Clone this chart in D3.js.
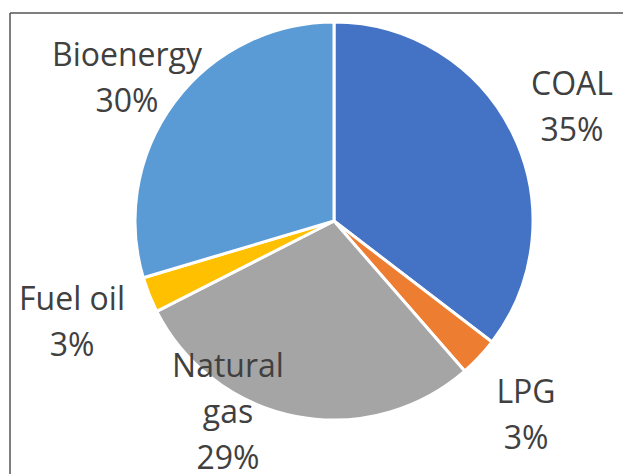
<!DOCTYPE html>
<html>
<head>
<meta charset="utf-8">
<script src="https://cdn.jsdelivr.net/npm/d3@7"></script>
<style>
  body { margin: 0; background: #fff; }
  text { font-family: "Open Sans", "Noto Sans", sans-serif; fill: #404040; }
</style>
</head>
<body>
<svg width="623" height="474"></svg>
<script>
const categories = ["COAL", "LPG", "Natural gas", "Fuel oil", "Bioenergy"];
const shares = [35.4, 3.2, 28.9, 2.9, 29.6];
const shareLabels = ["35%", "3%", "29%", "3%", "30%"];
const colors = ["#4472C4", "#ED7D31", "#A5A5A5", "#FFC000", "#5B9BD5"];

// label lines as shown in the picture (name may wrap)
const nameLines = [["COAL"], ["LPG"], ["Natural", "gas"], ["Fuel oil"], ["Bioenergy"]];
// label anchor (center x, first baseline y)
const labelPos = [[572, 95], [526, 403], [228, 377], [72, 310], [127, 66]];

const cx = 334, cy = 221, r = 199;

const svg = d3.select("svg");

// frame of the figure (only top and left show)
svg.append("line").attr("x1", 10).attr("y1", 13).attr("x2", 623).attr("y2", 13)
   .attr("stroke", "#555").attr("stroke-width", 1.5);
svg.append("line").attr("x1", 10).attr("y1", 13).attr("x2", 10).attr("y2", 474)
   .attr("stroke", "#555").attr("stroke-width", 1.5);

// bits of the title above the frame that got cut off
svg.selectAll(".cut").data([["(", 282], [",", 348], [")", 410]]).enter()
   .append("text").attr("class", "cut")
   .attr("x", d => d[1]).attr("y", -4)
   .attr("text-anchor", "middle").attr("font-size", 28)
   .text(d => d[0]);

const pie = d3.pie().sort(null).value(d => d);
const arc = d3.arc().innerRadius(0).outerRadius(r);

const g = svg.append("g").attr("transform", `translate(${cx},${cy})`);
g.selectAll("path")
 .data(pie(shares))
 .enter()
 .append("path")
 .attr("d", arc)
 .attr("fill", (d, i) => colors[i])
 .attr("stroke", "#fff")
 .attr("stroke-width", 3)
 .attr("stroke-linejoin", "round");

const lineH = 46;
const labels = svg.selectAll(".lbl")
  .data(categories)
  .enter()
  .append("text")
  .attr("class", "lbl")
  .attr("text-anchor", "middle")
  .attr("font-size", 32);

labels.each(function(c, i) {
  const t = d3.select(this);
  const lines = nameLines[i].concat([shareLabels[i]]);
  lines.forEach((s, k) => {
    t.append("tspan")
     .attr("x", labelPos[i][0])
     .attr("y", labelPos[i][1] + k * lineH)
     .text(s);
  });
});
</script>
</body>
</html>
